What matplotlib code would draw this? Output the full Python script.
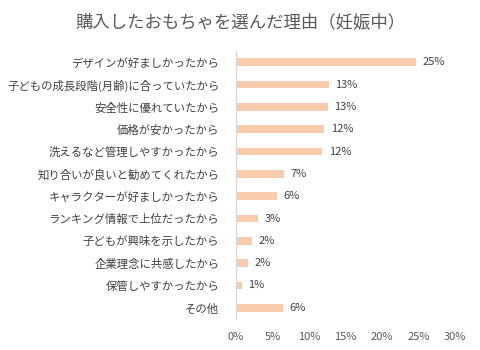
import matplotlib
matplotlib.use("Agg")
import matplotlib.pyplot as plt
from matplotlib.ticker import FuncFormatter

plt.rcParams['font.family'] = ['Noto Sans CJK JP', 'DejaVu Sans']

# 購入理由と割合(%)
reasons = [
    "デザインが好ましかったから",
    "子どもの成長段階(月齢)に合っていたから",
    "安全性に優れていたから",
    "価格が安かったから",
    "洗えるなど管理しやすかったから",
    "知り合いが良いと勧めてくれたから",
    "キャラクターが好ましかったから",
    "ランキング情報で上位だったから",
    "子どもが興味を示したから",
    "企業理念に共感したから",
    "保管しやすかったから",
    "その他",
]
shares = [24.6, 12.7, 12.6, 12.1, 11.8, 6.6, 5.6, 3.0, 2.2, 1.6, 0.8, 6.4]
x_ticks = [0, 5, 10, 15, 20, 25, 30]

bar_color = "#F8CBAD"
text_color = "#404040"

fig = plt.figure(figsize=(4.8, 3.5), dpi=100)
ax = fig.add_axes([236 / 480, 1 - 319 / 350, (455 - 236) / 480, (319 - 51) / 350])

pos = list(range(len(reasons)))
ax.barh(pos, shares, height=0.35, color=bar_color)
for p, v in zip(pos, shares):
    ax.text(v + 0.9, p, f"{round(v)}%", va="center", ha="left",
            fontsize=8, color=text_color)

ax.set_yticks(pos)
ax.set_yticklabels(reasons, fontsize=8.2, color=text_color)
ax.set_ylim(len(reasons) - 0.5, -0.5)
ax.set_xlim(0, 30)
ax.set_xticks(x_ticks)
ax.xaxis.set_major_formatter(FuncFormatter(lambda v, _: f"{v:.0f}%"))
ax.tick_params(axis="x", length=0, labelsize=8, labelcolor="#595959", pad=9)
ax.tick_params(axis="y", length=0, pad=12)

for side in ["top", "right", "bottom"]:
    ax.spines[side].set_visible(False)
ax.spines["left"].set_color("#D9D9D9")
ax.spines["left"].set_linewidth(1)

fig.text(240 / 480, 1 - 22 / 350, "購入したおもちゃを選んだ理由（妊娠中）",
         ha="center", va="center", fontsize=12.5, color="#595959")

fig.savefig("out.png", dpi=100)
